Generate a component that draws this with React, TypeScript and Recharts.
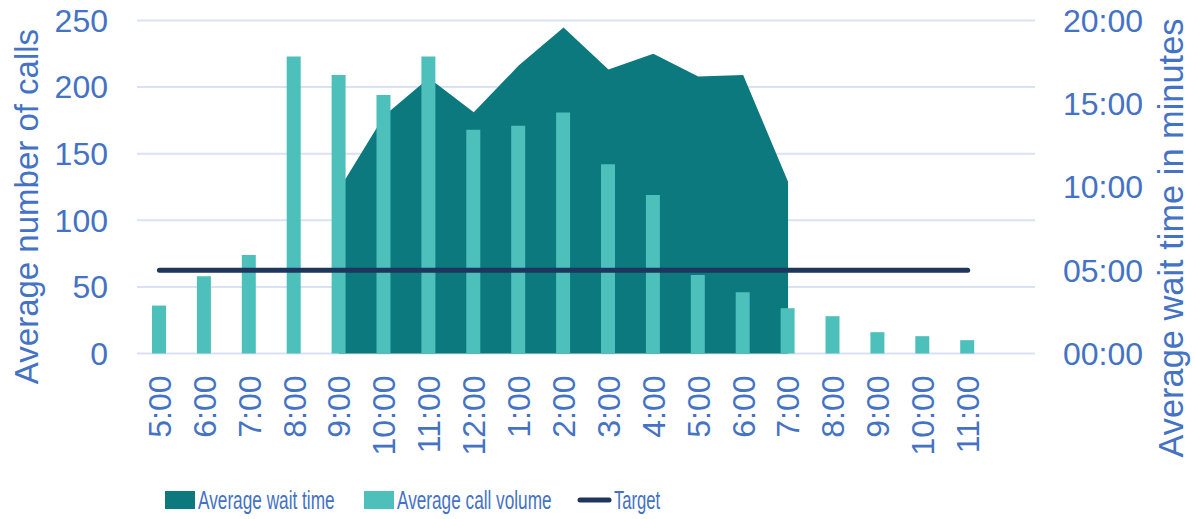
import React from 'react';
import { ComposedChart, Bar, Area, Line, XAxis, YAxis, CartesianGrid, Legend } from 'recharts';

const hours = ['5:00', '6:00', '7:00', '8:00', '9:00', '10:00', '11:00', '12:00', '1:00', '2:00', '3:00', '4:00', '5:00', '6:00', '7:00', '8:00', '9:00', '10:00', '11:00', ''];
const callVolume = [36, 58, 74, 223, 209, 194, 223, 168, 171, 181, 142, 119, 59, 46, 34, 28, 16, 13, 10, null];
const waitMinutes = [null, null, null, null, 9.85, 14.27, 16.55, 14.49, 17.29, 19.58, 17.05, 18.0, 16.63, 16.72, 10.32, null, null, null, null, null];
const targetMinutes = [5, 5, 5, 5, 5, 5, 5, 5, 5, 5, 5, 5, 5, 5, 5, 5, 5, 5, 5, null];
const callTicks = [0, 50, 100, 150, 200, 250];
const waitTicks = [0, 5, 10, 15, 20];

const data = hours.map((h, i) => ({
  key: i,
  hour: h,
  calls: callVolume[i],
  wait: waitMinutes[i],
  target: targetMinutes[i],
}));

const BLUE = '#4472C4';
const AREA = '#0B797D';
const BAR = '#4DC0BB';
const NAVY = '#1E355E';
const GRID = '#D9E2F3';
const FONT = '"Liberation Sans", Arial, sans-serif';

const fmtMin = (v: number) => `${String(v).padStart(2, '0')}:00`;

const XTick = (props: any) => {
  const { x, y, payload } = props;
  return (
    <text
      x={x}
      y={y}
      transform={`rotate(-90, ${x}, ${y})`}
      textAnchor="end"
      dy="0.355em"
      fill={BLUE}
      fontSize={32}
      fontFamily={FONT}
    >
      {hours[payload.index] ?? payload.value}
    </text>
  );
};

const LegendText = ({ x, label, sx }: { x: number; label: string; sx: number }) => (
  <text
    transform={`translate(${x}, 30) scale(${sx}, 1)`}
    x={0}
    y={0}
    fill={BLUE}
    fontSize={26}
    fontFamily={FONT}
  >
    {label}
  </text>
);

const LegendContent = () => (
  <svg width={1195} height={40} style={{ display: 'block' }}>
    <rect x={165} y={12} width={30} height={18} fill={AREA} />
    <LegendText x={198} label="Average wait time" sx={0.663} />
    <rect x={364} y={12} width={30} height={18} fill={BAR} />
    <LegendText x={397} label="Average call volume" sx={0.662} />
    <line x1={580} y1={21} x2={609} y2={21} stroke={NAVY} strokeWidth={5} strokeLinecap="round" />
    <LegendText x={614} label="Target" sx={0.64} />
  </svg>
);

export default function App() {
  return (
    <div style={{ position: 'absolute', left: 0, top: 0, width: 1195, height: 519, background: '#fff' }}>
      <ComposedChart
        width={1195}
        height={519}
        data={data}
        margin={{ top: 20.5, right: 0, bottom: 0, left: 0 }}
        barCategoryGap={0}
      >
        <CartesianGrid horizontal vertical={false} stroke={GRID} strokeWidth={2} yAxisId="left" />
        <XAxis
          dataKey="key"
          type="category"
          interval={0}
          tickLine={false}
          axisLine={false}
          tickSize={0}
          tickMargin={22}
          height={125.5}
          tick={<XTick />}
        />
        <YAxis
          yAxisId="left"
          orientation="left"
          domain={[0, 250]}
          ticks={callTicks}
          width={137}
          tickLine={false}
          axisLine={false}
          tickSize={0}
          tickMargin={29}
          tick={{ fill: BLUE, fontSize: 32, fontFamily: FONT }}
          label={{
            content: () => (
              <text
                x={38}
                y={206.5}
                transform="rotate(-90, 38, 206.5)"
                textAnchor="middle"
                fill={BLUE}
                fontSize={33}
                fontFamily={FONT}
              >
                Average number of calls
              </text>
            ),
          }}
        />
        <YAxis
          yAxisId="right"
          orientation="right"
          domain={[0, 20]}
          ticks={waitTicks}
          width={160}
          tickLine={false}
          axisLine={false}
          tickSize={0}
          tickMargin={28}
          tickFormatter={fmtMin}
          tick={{ fill: BLUE, fontSize: 32, fontFamily: FONT }}
          label={{
            content: () => (
              <text
                x={1183}
                y={238}
                transform="rotate(-90, 1183, 238)"
                textAnchor="middle"
                fill={BLUE}
                fontSize={34.4}
                fontFamily={FONT}
              >
                Average wait time in minutes
              </text>
            ),
          }}
        />
        <Area
          yAxisId="right"
          dataKey="wait"
          type="linear"
          fill={AREA}
          fillOpacity={1}
          stroke="none"
          isAnimationActive={false}
          name="Average wait time"
        />
        <Bar
          yAxisId="left"
          dataKey="calls"
          fill={BAR}
          barSize={14}
          isAnimationActive={false}
          name="Average call volume"
        />
        <Line
          yAxisId="right"
          dataKey="target"
          type="linear"
          stroke={NAVY}
          strokeWidth={5}
          strokeLinecap="round"
          dot={false}
          activeDot={false}
          isAnimationActive={false}
          name="Target"
        />
        <Legend
          verticalAlign="bottom"
          align="left"
          height={40}
          wrapperStyle={{ left: 0, width: 1195, height: 40 }}
          content={<LegendContent />}
        />
      </ComposedChart>
    </div>
  );
}
